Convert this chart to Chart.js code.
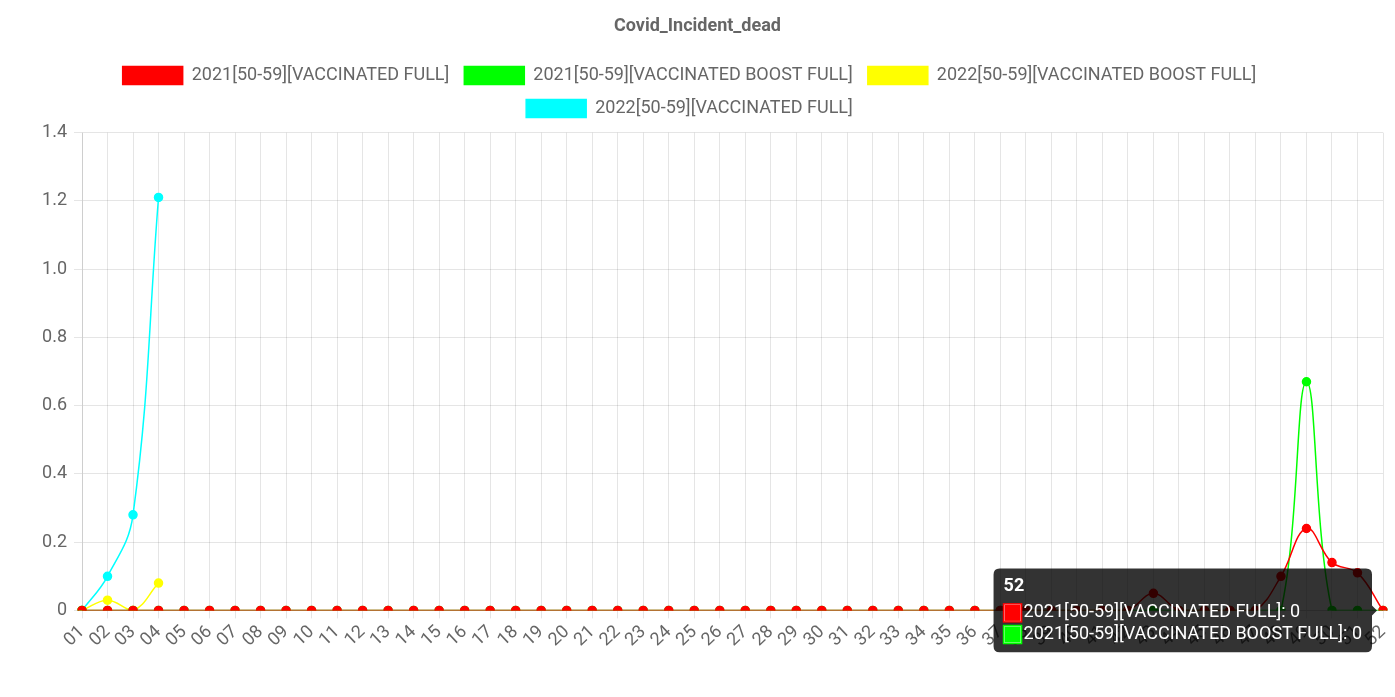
<!DOCTYPE html>
<html>
<head>
<meta charset="utf-8">
<title>Covid_Incident_dead</title>
<script src="https://cdn.jsdelivr.net/npm/chart.js@4/dist/chart.umd.min.js"></script>
<style>
    html, body { margin: 0; padding: 0; background: #ffffff; }
    .chart-card { position: relative; width: 1395px; height: 697px; }
</style>
</head>
<body>
<div class="chart-card">
    <canvas id="chartIncident"></canvas>
</div>
<script>
// Semanas del año
const semanas = ['01', '02', '03', '04', '05', '06', '07', '08', '09', '10',
    '11', '12', '13', '14', '15', '16', '17', '18', '19', '20',
    '21', '22', '23', '24', '25', '26', '27', '28', '29', '30',
    '31', '32', '33', '34', '35', '36', '37', '38', '39', '40',
    '41', '42', '43', '44', '45', '46', '47', '48', '49', '50',
    '51', '52'];

// Series
const full2021 = [0, 0, 0, 0, 0, 0, 0, 0, 0, 0,
    0, 0, 0, 0, 0, 0, 0, 0, 0, 0,
    0, 0, 0, 0, 0, 0, 0, 0, 0, 0,
    0, 0, 0, 0, 0, 0, 0, 0, 0, 0,
    0, 0, 0.05, 0, 0, 0, 0, 0.1, 0.24, 0.14,
    0.11, 0];
const boost2021 = [0, 0, 0, 0, 0, 0, 0, 0, 0, 0,
    0, 0, 0, 0, 0, 0, 0, 0, 0, 0,
    0, 0, 0, 0, 0, 0, 0, 0, 0, 0,
    0, 0, 0, 0, 0, 0, 0, 0, 0, 0,
    0, 0, 0, 0, 0, 0, 0, 0, 0.67, 0,
    0, 0];
const boost2022 = [0, 0.03, 0, 0.08];
const full2022 = [0, 0.1, 0.28, 1.21];

const yTicks = [0, 0.2, 0.4, 0.6, 0.8, 1.0, 1.2, 1.4];

const chartColors = {
    red: '#ff0000',
    green: '#00ff00',
    yellow: '#ffff00',
    cyan: '#00ffff',
    text: '#666666'
};

Chart.defaults.font.family = "Roboto, 'Noto Sans', sans-serif";
Chart.defaults.font.size = 18;
Chart.defaults.color = chartColors.text;

function serie(label, data, color) {
    return {
        label: label,
        data: data,
        borderColor: color,
        backgroundColor: color,
        pointBackgroundColor: color,
        pointBorderColor: color,
        borderWidth: 1.5,
        pointRadius: 4,
        pointHoverRadius: 4,
        tension: 0.4,
        fill: false
    };
}

// Ajustes de la leyenda: espacio extra debajo y leve desplazamiento a la izquierda
const legendMargin = {
    id: 'legendMargin',
    beforeInit(chart) {
        const fitOriginal = chart.legend.fit;
        chart.legend.fit = function () {
            fitOriginal.bind(chart.legend)();
            this.height += 5;
        };
    },
    afterLayout(chart) {
        chart.legend.left -= 8;
        chart.legend.right -= 8;
    }
};

const ctx = document.getElementById('chartIncident');
const chart = new Chart(ctx, {
    type: 'line',
    data: {
        labels: semanas,
        datasets: [
            serie('2021[50-59][VACCINATED FULL]', full2021, chartColors.red),
            serie('2021[50-59][VACCINATED BOOST FULL]', boost2021, chartColors.green),
            serie('2022[50-59][VACCINATED BOOST FULL]', boost2022, chartColors.yellow),
            serie('2022[50-59][VACCINATED FULL]', full2022, chartColors.cyan)
        ]
    },
    plugins: [legendMargin],
    options: {
        responsive: true,
        maintainAspectRatio: false,
        animation: false,
        layout: {
            padding: { left: 12, right: 12, top: 2, bottom: 43 }
        },
        interaction: {
            mode: 'index',
            intersect: false
        },
        scales: {
            x: {
                grid: { color: 'rgba(0,0,0,0.1)' },
                ticks: { autoSkip: false },
                afterFit: function (axis) {
                    axis.paddingRight = 0;
                }
            },
            y: {
                min: 0,
                max: 1.4,
                afterBuildTicks: function (axis) {
                    axis.ticks = yTicks.map(v => ({ value: v }));
                },
                afterFit: function (axis) {
                    axis.width = 70;
                },
                grid: { color: 'rgba(0,0,0,0.1)' },
                ticks: { padding: 7 }
            }
        },
        plugins: {
            title: {
                display: true,
                text: 'Covid_Incident_dead',
                font: { size: 18, weight: 'bold' },
                padding: { top: 14, bottom: 14 }
            },
            legend: {
                position: 'top',
                labels: {
                    boxWidth: 60,
                    boxHeight: 18,
                    padding: 15
                }
            },
            tooltip: {
                backgroundColor: 'rgba(0,0,0,0.8)',
                padding: { top: 7, bottom: 7, left: 10, right: 10 },
                cornerRadius: 6,
                caretPadding: 6,
                titleFont: { size: 18, weight: 'bold' },
                titleMarginBottom: 5,
                bodyFont: { size: 18 },
                bodySpacing: 0
            }
        }
    }
});

// Tooltip activo en la semana 52
const idx = 51;
const punto = chart.getDatasetMeta(0).data[idx];
chart.tooltip.setActiveElements([
    { datasetIndex: 0, index: idx },
    { datasetIndex: 1, index: idx }
], { x: punto.x, y: punto.y });
chart.update();
</script>
</body>
</html>
